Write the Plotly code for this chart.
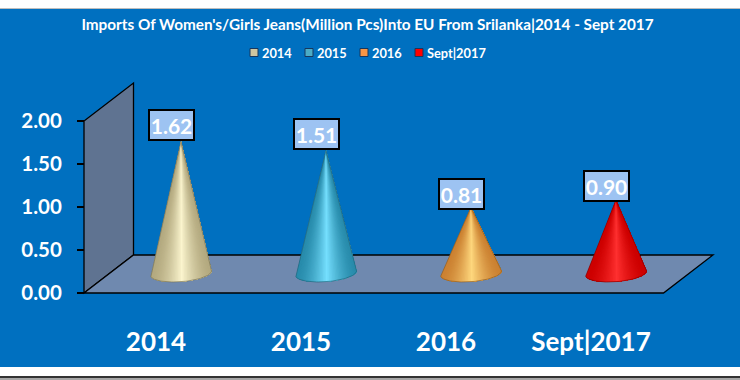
import numpy as np
import plotly.graph_objects as go

categories = ["2014", "2015", "2016", "Sept|2017"]
values = [1.62, 1.51, 0.81, 0.90]
value_labels = ["1.62", "1.51", "0.81", "0.90"]
edge_colors = [(180, 170, 128), (40, 140, 172), (204, 130, 50), (205, 0, 0)]
mid_colors = [(251, 245, 206), (118, 224, 255), (255, 216, 126), (255, 48, 48)]
outline_colors = ["#7a7557", "#24667c", "#8f5e25", "#8a0000"]
legend_colors = ["#CFC6A0", "#4BACC6", "#F79646", "#FF0000"]
y_ticks = [0, 0.5, 1.0, 1.5, 2.0]
y_tick_labels = ["0.00", "0.50", "1.00", "1.50", "2.00"]

W, H = 740, 380
PLOT_L, PLOT_R, PLOT_T, PLOT_B = 80, 718, 40, 296
MARGIN_L = 40
X0_PX, X_UNIT = 156.0, 145.0
Y0_PX, Y_UNIT = 293.0, 86.0
px_x = lambda p: (p - X0_PX) / X_UNIT
px_y = lambda p: (Y0_PX - p) / Y_UNIT
DX, DY = px_x(133.5) - px_x(84), px_y(255) - px_y(293)
XL, XR = px_x(84), px_x(663.5)

fig = go.Figure()

# cones: painted left to right, each slice covering the rest of the cone
for i, v in enumerate(values):
    cx = i + px_x(181) - px_x(156)
    base_y, tip_y = 0.23, 0.23 + v * 0.945
    rx, ry, tilt = 30.5 / X_UNIT, 8.5 / Y_UNIT, 2.2 / Y_UNIT
    th = np.linspace(np.pi, 2 * np.pi, 61)
    bx = cx + rx * np.cos(th)
    by = base_y + ry * np.sin(th) + tilt * np.cos(th)
    e, m = np.array(edge_colors[i]), np.array(mid_colors[i])
    for k in range(len(th) - 1):
        t = (bx[k] - bx[0]) / (bx[-1] - bx[0])
        s = np.clip(1 - abs(t - 0.5) / 0.5, 0, 1) ** 1.6
        c = (e + (m - e) * s).astype(int)
        col = f"rgb({c[0]},{c[1]},{c[2]})"
        fig.add_trace(go.Scatter(
            x=[cx, *bx[k:], cx], y=[tip_y, *by[k:], tip_y],
            mode="lines", fill="toself", fillcolor=col,
            line=dict(width=0), hoverinfo="skip", showlegend=False))
    fig.add_trace(go.Scatter(
        x=[cx, *bx, cx], y=[tip_y, *by, tip_y], mode="lines",
        line=dict(color=outline_colors[i], width=0.7),
        hoverinfo="skip", showlegend=False))

# legend row, as real marks and text
for i, c in enumerate(categories):
    fig.add_trace(go.Scatter(
        x=[px_x(254 + 55 * i)], y=[px_y(52.5)], mode="markers",
        marker=dict(symbol="square", size=8, color=legend_colors[i],
                    line=dict(color="#17375E", width=1)),
        hoverinfo="skip", showlegend=False, name=c))
    fig.add_annotation(x=px_x(262 + 55 * i), y=px_y(52.5), text=f"<b>{c}</b>", showarrow=False,
                       xanchor="left", yanchor="middle", xshift=-2,
                       font=dict(family="Lato", size=12.8, color="white"))

# value labels
for i, v in enumerate(values):
    fig.add_annotation(x=i + px_x(171) - px_x(156), y=v * 0.998 + 0.342, text=f"<b>{value_labels[i]}</b>",
                       showarrow=False, xanchor="center", yanchor="middle",
                       width=43, height=28, bgcolor="#9DC3F2", bordercolor="black", borderwidth=2, borderpad=0,
                       font=dict(family="Lato", size=21, color="white"))

shapes = []
def poly(pts, fill, line="black", w=1.3, xref="x", yref="y", layer="below"):
    path = "M " + " L ".join(f"{a},{b}" for a, b in pts) + " Z"
    shapes.append(dict(type="path", path=path, xref=xref, yref=yref, fillcolor=fill,
                       line=dict(color=line, width=w), layer=layer))

poly([(XL, 0), (XL + DX, DY), (XL + DX, 2 + DY), (XL, 2)], "#5F7391")
poly([(XL, 0), (XL + DX, DY), (XR + DX, DY), (XR, 0)], "#6F89AF")

# page frame: white bands above and below the blue panel
pw, ph = PLOT_R - MARGIN_L, PLOT_B - PLOT_T
for x0, x1, y0, y1, col in [(0, W, 0, 8, "white"), (0, W, 8, 9, "#BDBDBD"),
                            (0, W, 367, 376, "white"), (0, W, 376, 378, "#333333"),
                            (0, W, 378, 380, "#A6A6A6")]:
    shapes.append(dict(type="rect", xref="paper", yref="paper",
                       x0=(x0 - MARGIN_L) / pw, x1=(x1 - MARGIN_L) / pw,
                       y0=(PLOT_B - y0) / ph, y1=(PLOT_B - y1) / ph,
                       fillcolor=col, line=dict(width=0), layer="below"))

fig.update_layout(
    width=W, height=H, autosize=False,
    margin=dict(l=MARGIN_L, r=W - PLOT_R, t=PLOT_T, b=H - PLOT_B, pad=0),
    paper_bgcolor="#0070C0", plot_bgcolor="rgba(0,0,0,0)",
    showlegend=False, shapes=shapes,
    title=dict(text="<b>Imports Of Women's/Girls Jeans(Million Pcs)Into EU From Srilanka|2014 - Sept 2017</b>",
               x=(367.5) / W, xanchor="center", y=1 - 25 / H, yanchor="middle",
               font=dict(family="Lato", size=15.3, color="white")),
    xaxis=dict(domain=[(PLOT_L - MARGIN_L) / pw, 1], range=[px_x(PLOT_L), px_x(PLOT_R)],
               tickvals=list(range(4)), ticktext=[f"<b>{c}</b>" for c in categories],
               showgrid=False, zeroline=False, showline=False,
               ticks="outside", ticklen=23, tickcolor="rgba(0,0,0,0)",
               tickfont=dict(family="Lato", size=26, color="white")),
    yaxis=dict(anchor="free", position=(84 - MARGIN_L) / pw,
               range=[px_y(PLOT_B), px_y(PLOT_T)],
               tickvals=y_ticks, ticktext=[f"<b>{t}</b>" for t in y_tick_labels],
               showgrid=False, zeroline=False, showline=False,
               ticks="outside", ticklen=7, tickwidth=2, tickcolor="black", ticklabelstandoff=11,
               tickfont=dict(family="Lato", size=20.5, color="white")),
)
fig.write_html("out.html", config={"displayModeBar": False},
               post_script="document.body.style.margin='0';document.body.style.overflow='hidden';")
